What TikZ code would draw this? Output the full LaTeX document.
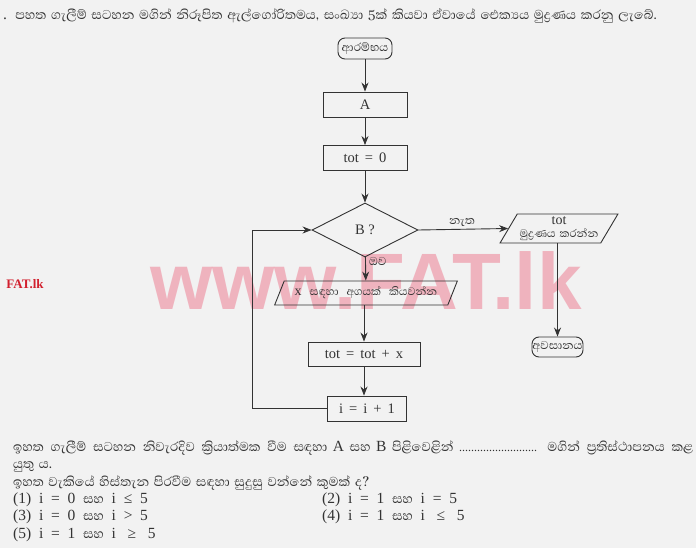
\documentclass[tikz,border=0pt]{standalone}
\usepackage{fontspec}
\setmainfont{Liberation Serif}
\newfontfamily\sinfont[Script=Sinhala,Scale=1.22,WordSpace=1.5]{Abhaya Libre}
\newfontfamily\wmfont{Liberation Sans}
\newcommand{\si}[1]{{\sinfont\fontsize{13.5}{16}\selectfont #1}}
\usetikzlibrary{shapes.geometric,arrows.meta}
\definecolor{ink}{HTML}{333333}
\definecolor{paper}{HTML}{F2F2F2}
\definecolor{wmpink}{HTML}{EE8A9C}
\definecolor{wmred}{HTML}{D2202E}
\begin{document}
\begin{tikzpicture}[x=1pt,y=-1pt,
  ln/.style={draw=ink,line width=0.9pt},
  arr/.style={ln,-{Stealth[length=9pt,width=7pt]}},
  procbox/.style={draw=ink,line width=0.9pt,rectangle,inner sep=0pt,text=ink,font=\fontsize{14.5}{16}\selectfont},
  term/.style={draw=ink,line width=0.9pt,rectangle,rounded corners=7pt,inner sep=0pt,text=ink,font=\sinfont\fontsize{12}{13}\selectfont},
  iobox/.style={draw=ink,line width=0.9pt,trapezium,trapezium stretches=true,trapezium left angle=56,trapezium right angle=124,inner sep=0pt,text=ink,align=center},
  decis/.style={draw=ink,line width=0.9pt,diamond,inner sep=0pt,text=ink,font=\fontsize{14.5}{16}\selectfont},
  lbl/.style={text=ink,inner sep=0pt,font=\sinfont\fontsize{12}{14}\selectfont},
  txt/.style={anchor=base west,text=ink,inner sep=0pt,font=\fontsize{15.5}{18}\selectfont}
]
\fill[paper] (0,0) rectangle (696,548);
\useasboundingbox (0,0) rectangle (696,548);

% watermark
\node[text=wmpink,opacity=0.6,inner sep=0pt,font=\wmfont\bfseries\fontsize{80}{80}\selectfont] (wm) at (366,281) {www.FAT.lk};
\node[text=wmred,inner sep=0pt,font=\bfseries\fontsize{13}{14}\selectfont] (wm2) at (25,284) {FAT.lk};

% title
\node[txt] (title) at (3,20) {.\,\si{ පහත ගැලීම් සටහන මගින් නිරූපිත ඇල්ගෝරිතමය, සංඛ්^^^^200dයා 5ක් කියවා ඒවායේ ඓක්^^^^200dයය මුද්^^^^200dරණය කරනු ලැබේ.}};

% flowchart
\node[term,minimum width=54pt,minimum height=21pt] (start) at (365,48.5) {ආරම්භය};
\node[procbox,minimum width=84pt,minimum height=25pt] (A) at (365,104.5) {A};
\node[procbox,minimum width=84pt,minimum height=25pt] (tot0) at (365,158) {tot\,\ =\,\ 0};
\node[decis,minimum width=106pt,minimum height=54pt] (dia) at (365,230) {B ?};
\node[iobox,minimum width=183pt,minimum height=24pt,font=\sinfont\fontsize{11.5}{14}\selectfont] (inp) at (366,293) {{\rmfamily\fontsize{14}{14}\selectfont x}\ \ සඳහා\ \ අගයක්\ \ කියවන්න};
\node[procbox,minimum width=112pt,minimum height=24pt] (upd) at (364,354) {tot\,\ =\,\ tot\,\ +\,\ x};
\node[procbox,minimum width=79pt,minimum height=25pt] (inc) at (367,408.5) {i\,\ =\,\ i\,\ +\,\ 1};
\node[iobox,minimum width=118pt,minimum height=29pt] (out) at (559,228.5) {\fontsize{14}{13}\selectfont tot\\[1pt] \sinfont\fontsize{11.5}{12}\selectfont මුද්^^^^200dරණය කරන්න};
\node[term,minimum width=51pt,minimum height=20pt] (stop) at (557.5,347) {අවසානය};

\coordinate (lb) at (252,408.5);

\draw[arr] (start) -- (A);
\draw[arr] (A) -- (tot0);
\draw[arr] (tot0) -- (dia);
\draw[arr] (dia) -- (inp);
\draw[arr] (inp.south -| upd.north) -- (upd);
\draw[arr] (upd.south) -- (upd.south |- inc.north);
\draw[arr] (inc.west) -- (lb) -- (lb |- dia.west) -- (dia.west);
\draw[arr] (dia.east) -- (out.west);
\draw[arr] (stop.north |- out.south) -- (stop.north);

\node[lbl] (no) at (462,222) {නැත};
\node[lbl,anchor=west] (yes) at (369,261) {ඔව};

% question text
\node[txt] (q1) at (13,451) {\hbox to 680pt{\si{ඉහත ගැලීම් සටහන නිවැරදිව ක්^^^^200dරියාත්මක වීම සඳහා} A \si{සහ} B \si{පිළිවෙළින්} {\fontsize{12}{14}\selectfont ..........................} \si{මගින් ප්^^^^200dරතිස්ථාපනය කළ}}};
\node[txt] (q2) at (13,468) {\si{යුතු ය.}};
\node[txt] (q3) at (13,486) {\si{ඉහත වැකියේ හිස්තැන පිරවීම සඳහා සුදුසු වන්නේ කුමක් ද?}};
\node[txt] (o1) at (13,503) {(1)\ \ i\ \ =\ \ 0\ \ \si{සහ}\ \ i\ \ ≤\ \ 5};
\node[txt] (o2) at (322,503) {(2)\ \ i\ \ =\ \ 1\ \ \si{සහ}\ \ i\ \ =\ \ 5};
\node[txt] (o3) at (13,520) {(3)\ \ i\ \ =\ \ 0\ \ \si{සහ}\ \ i\ \ >\ \ 5};
\node[txt] (o4) at (322,520) {(4)\ \ i\ \ =\ \ 1\ \ \si{සහ}\ \ i\ \ \ ≤\ \ \ 5};
\node[txt] (o5) at (13,538) {(5)\ \ i\ \ =\ \ 1\ \ \si{සහ}\ \ i\ \ \ ≥\ \ \ 5};
\end{tikzpicture}
\end{document}
